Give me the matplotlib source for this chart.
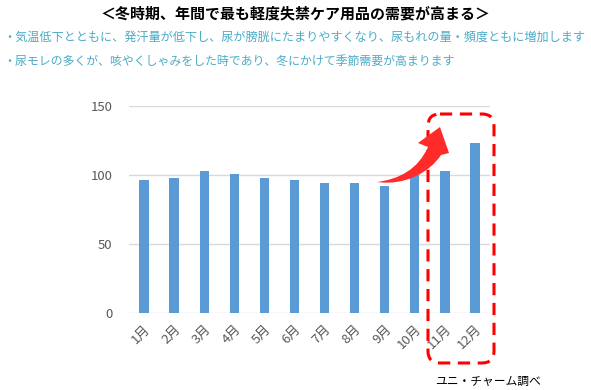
import matplotlib.pyplot as plt
from matplotlib.patches import FancyBboxPatch, PathPatch
from matplotlib.path import Path

plt.rcParams['font.family'] = ['Noto Sans CJK JP', 'DejaVu Sans']

# データ(ユニ・チャーム調べ)
months = ['1月', '2月', '3月', '4月', '5月', '6月', '7月', '8月', '9月', '10月', '11月', '12月']
demand = [96, 98, 103, 101, 98, 96, 94, 94, 92, 100, 103, 123]
yticks = [0, 50, 100, 150]

title = '＜冬時期、年間で最も軽度失禁ケア用品の需要が高まる＞'
notes = ['・気温低下とともに、発汗量が低下し、尿が膀胱にたまりやすくなり、尿もれの量・頻度ともに増加します',
         '・尿モレの多くが、咳やくしゃみをした時であり、冬にかけて季節需要が高まります']
source = 'ユニ・チャーム調べ'

W, H = 591, 390
fig = plt.figure(figsize=(W / 100, H / 100), dpi=100)
ax = fig.add_axes([129 / W, 1 - 312.7 / H, 361 / W, 206.7 / H])

x = range(len(months))
ax.bar(x, demand, width=0.31, color='#5B9BD5', zorder=2)
ax.set_xlim(-0.5, len(months) - 0.5)
ax.set_ylim(0, 150)
ax.set_yticks(yticks)
ax.set_xticks(list(x))
ax.set_xticklabels(months, rotation=45, ha='right', rotation_mode='anchor')
ax.tick_params(length=0, colors='#595959', labelsize=9.5)
ax.tick_params(axis='y', pad=12)
ax.tick_params(axis='x', pad=7)
ax.grid(axis='y', color='#D9D9D9', linewidth=1, zorder=0)
for s in ax.spines.values():
    s.set_visible(False)

# 注記用のオーバーレイ(ピクセル座標)
ov = fig.add_axes([0, 0, 1, 1], zorder=5)
ov.set_xlim(0, W)
ov.set_ylim(H, 0)
ov.axis('off')
ov.patch.set_alpha(0)

renderer = fig.canvas.get_renderer()


def fit_text(t, width):
    # 文字列の幅を指定ピクセルに合わせる
    for _ in range(3):
        w = t.get_window_extent(renderer).width
        t.set_fontsize(t.get_fontsize() * width / w)


t = ov.text(295, 13, title, ha='center', va='center', fontsize=10.5, fontweight='bold', color='black')
fit_text(t, 390)
t = ov.text(3, 37, notes[0], ha='left', va='center', fontsize=9, color='#4BACC6')
fit_text(t, 584)
t = ov.text(3, 61, notes[1], ha='left', va='center', fontsize=9, color='#4BACC6')
fit_text(t, 452)
ov.text(488, 381, source, ha='center', va='center', fontsize=8.5, color='black')

box = FancyBboxPatch((428, 114), 66, 249, boxstyle='round,pad=0,rounding_size=12',
                     fill=False, edgecolor='#FF0000', linewidth=2.2, linestyle=(0, (4, 2.5)))
ov.add_patch(box)

# 曲がった矢印
verts = [(377, 182),
         (400, 179), (418, 169), (428, 147),
         (418, 143), (440, 127), (449, 153), (441, 155),
         (430, 172), (405, 186), (377, 182)]
codes = [Path.MOVETO,
         Path.CURVE4, Path.CURVE4, Path.CURVE4,
         Path.LINETO, Path.LINETO, Path.LINETO, Path.LINETO,
         Path.CURVE4, Path.CURVE4, Path.CURVE4]
ov.add_patch(PathPatch(Path(verts, codes), facecolor='#FF2B2B', edgecolor='none', zorder=6))

fig.savefig('out.png', dpi=100)
